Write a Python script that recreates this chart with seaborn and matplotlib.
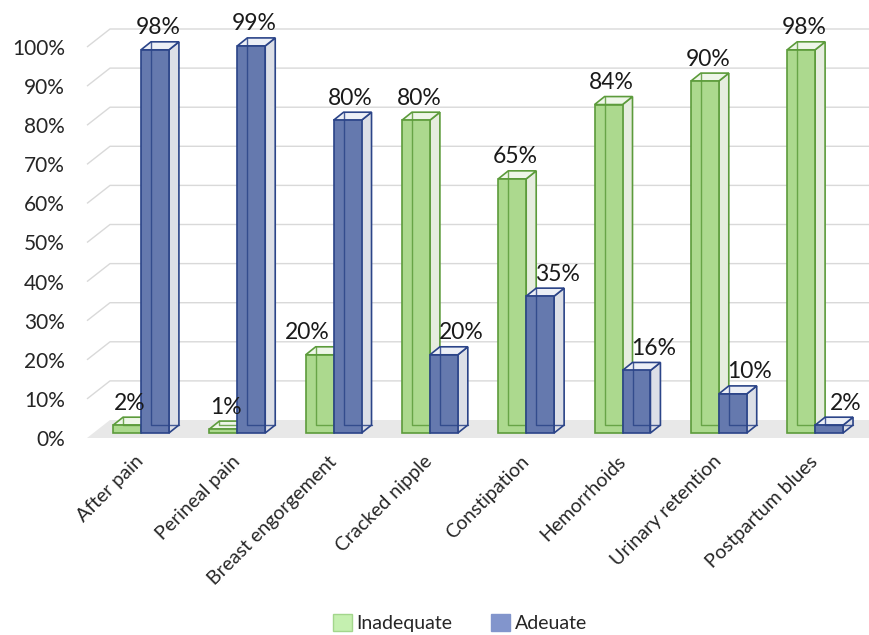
import matplotlib
matplotlib.use("Agg")
import matplotlib.pyplot as plt
import matplotlib.transforms as mtransforms
from matplotlib.patches import Polygon, Patch
import seaborn as sns
import pandas as pd
import numpy as np

categories = ["After pain", "Perineal pain", "Breast engorgement", "Cracked nipple",
              "Constipation", "Hemorrhoids", "Urinary retention", "Postpartum blues"]
inadequate = [2, 1, 20, 80, 65, 84, 90, 98]
adequate = [98, 99, 80, 20, 35, 16, 10, 2]
series_names = ["Inadequate", "Adeuate"]
yticks = [0, 10, 20, 30, 40, 50, 60, 70, 80, 90, 100]

df = pd.DataFrame({
    "category": categories * 2,
    "value": [v / 100 for v in inadequate] + [v / 100 for v in adequate],
    "series": [series_names[0]] * len(categories) + [series_names[1]] * len(categories),
})

sns.set_theme(style="white")
plt.rcParams["font.family"] = ["Lato", "DejaVu Sans"]

W, H = 869, 635
fig = plt.figure(figsize=(W / 100, H / 100), dpi=100)
left_px, right_px, bot_px, top_px = 85, 869, 438, 20
ax = fig.add_axes([left_px / W, 1 - bot_px / H, (right_px - left_px) / W, (bot_px - top_px) / H])

face = {"Inadequate": "#acd98e", "Adeuate": "#6579ae"}
edge = {"Inadequate": "#5c9b3b", "Adeuate": "#2b4488"}
side = {"Inadequate": "#e6eddf", "Adeuate": "#dcdfe7"}
topc = {"Inadequate": "#eef6e8", "Adeuate": "#eceff6"}

sns.barplot(data=df, x="category", y="value", hue="series", order=categories,
            hue_order=series_names, palette=face, width=0.58, gap=0, dodge=True,
            legend=False, ax=ax, saturation=1, linewidth=1.2, edgecolor="none", errorbar=None)

containers = list(ax.containers)

ppu_y = 391.0
ax.set_ylim(-(bot_px - 433) / ppu_y, (433 - top_px) / ppu_y)
cat0_px, ppu_x = 141.0, 96.3
ax.set_xlim((left_px - cat0_px) / ppu_x, (right_px - cat0_px) / ppu_x)
for s in ax.spines.values():
    s.set_visible(False)

fig.canvas.draw()

def off(x, y, px, py):
    d = ax.transData.transform((x, y))
    return tuple(ax.transData.inverted().transform((d[0] + px, d[1] + py)))

x_lo, x_hi = ax.get_xlim()
y0 = 0.0
fx0 = x_lo
f_front_l = off(fx0, y0, 2, -5)
f_front_r = off(x_hi, y0, 0, -5)
f_back_l = off(fx0, y0, 25, 13)
f_back_r = off(x_hi, y0, 30, 13)
ax.add_patch(Polygon([f_front_l, f_front_r, f_back_r, f_back_l], closed=True,
                     facecolor="#e8e8e8", edgecolor="none", zorder=0.2, clip_on=False))

for t in yticks[1:]:
    v = t / 100
    p1 = off(fx0, v, 2, -5)
    p2 = off(fx0, v, 25, 13)
    p3 = off(x_hi, v, 30, 13)
    ax.plot([p1[0], p2[0], p3[0]], [p1[1], p2[1], p3[1]], color="#d9d9d9", lw=1.0,
            zorder=0.3, clip_on=False, solid_capstyle="butt")

DXp, DYp = 10, 8
n = len(categories)
vals = {"Inadequate": inadequate, "Adeuate": adequate}
for si, sname in enumerate(series_names):
    base_z = 2 + si
    for ci, b in enumerate(containers[si].patches):
        x0, w, h = b.get_x(), b.get_width(), b.get_height()
        b.set_zorder(base_z + 0.3)
        b.set_edgecolor(edge[sname])
        b.set_linewidth(1.2)
        sp = [(x0 + w, 0), off(x0 + w, 0, DXp, DYp), off(x0 + w, h, DXp, DYp), (x0 + w, h)]
        ax.add_patch(Polygon(sp, closed=True, facecolor=side[sname], edgecolor=edge[sname],
                             lw=1.2, zorder=base_z + 0.1, joinstyle="miter"))
        tp = [(x0, h), off(x0, h, DXp, DYp), off(x0 + w, h, DXp, DYp), (x0 + w, h)]
        ax.add_patch(Polygon(tp, closed=True, facecolor=topc[sname], edgecolor=edge[sname],
                             lw=1.2, zorder=base_z + 0.2, joinstyle="miter"))
        bl0 = off(x0, 0, DXp, DYp)
        bl1 = off(x0, h, DXp, DYp)
        br0 = off(x0 + w, 0, DXp, DYp)
        ax.plot([bl1[0], bl0[0], br0[0]], [bl1[1], bl0[1], br0[1]], color=edge[sname],
                lw=1.0, zorder=base_z + 0.4, alpha=0.85)

        v = vals[sname][ci]
        other = vals[series_names[1 - si]][ci]
        shift = 3
        if si == 1 and other > v:
            shift = 17
        elif si == 0 and other > v and v >= 10:
            shift = -12
        ax.annotate(f"{v}%", xy=(x0 + w / 2, h),
                    xytext=(shift, 22), textcoords="offset pixels", ha="center", va="center",
                    fontsize=16.5, color="#1a1a1a", zorder=6, annotation_clip=False)

ax.set_yticks([t / 100 for t in yticks])
ax.set_yticklabels([f"{t}%" for t in yticks])
ax.tick_params(axis="y", length=0, pad=14.5, labelsize=15, labelcolor="#262626")
shift_down = mtransforms.ScaledTranslation(0, -5 / 100, fig.dpi_scale_trans)
for lab in ax.get_yticklabels():
    lab.set_transform(lab.get_transform() + shift_down)

ax.set_xlabel("")
ax.set_ylabel("")
ax.tick_params(axis="x", length=0, pad=15, labelsize=14, labelcolor="#262626")
for lab in ax.get_xticklabels():
    lab.set_rotation(45)
    lab.set_ha("right")
    lab.set_va("center")
    lab.set_rotation_mode("anchor")

handles = [Patch(facecolor="#c5f0b0", edgecolor="#a3d68c", label=series_names[0]),
           Patch(facecolor="#8295cc", edgecolor="#8295cc", label=series_names[1])]
fig.legend(handles=handles, loc="center", bbox_to_anchor=(460 / W, 12 / H), ncol=2,
           frameon=False, fontsize=14, handlelength=0.95, handleheight=0.95,
           handletextpad=0.25, columnspacing=2.0)

fig.savefig("out.png", dpi=100)
